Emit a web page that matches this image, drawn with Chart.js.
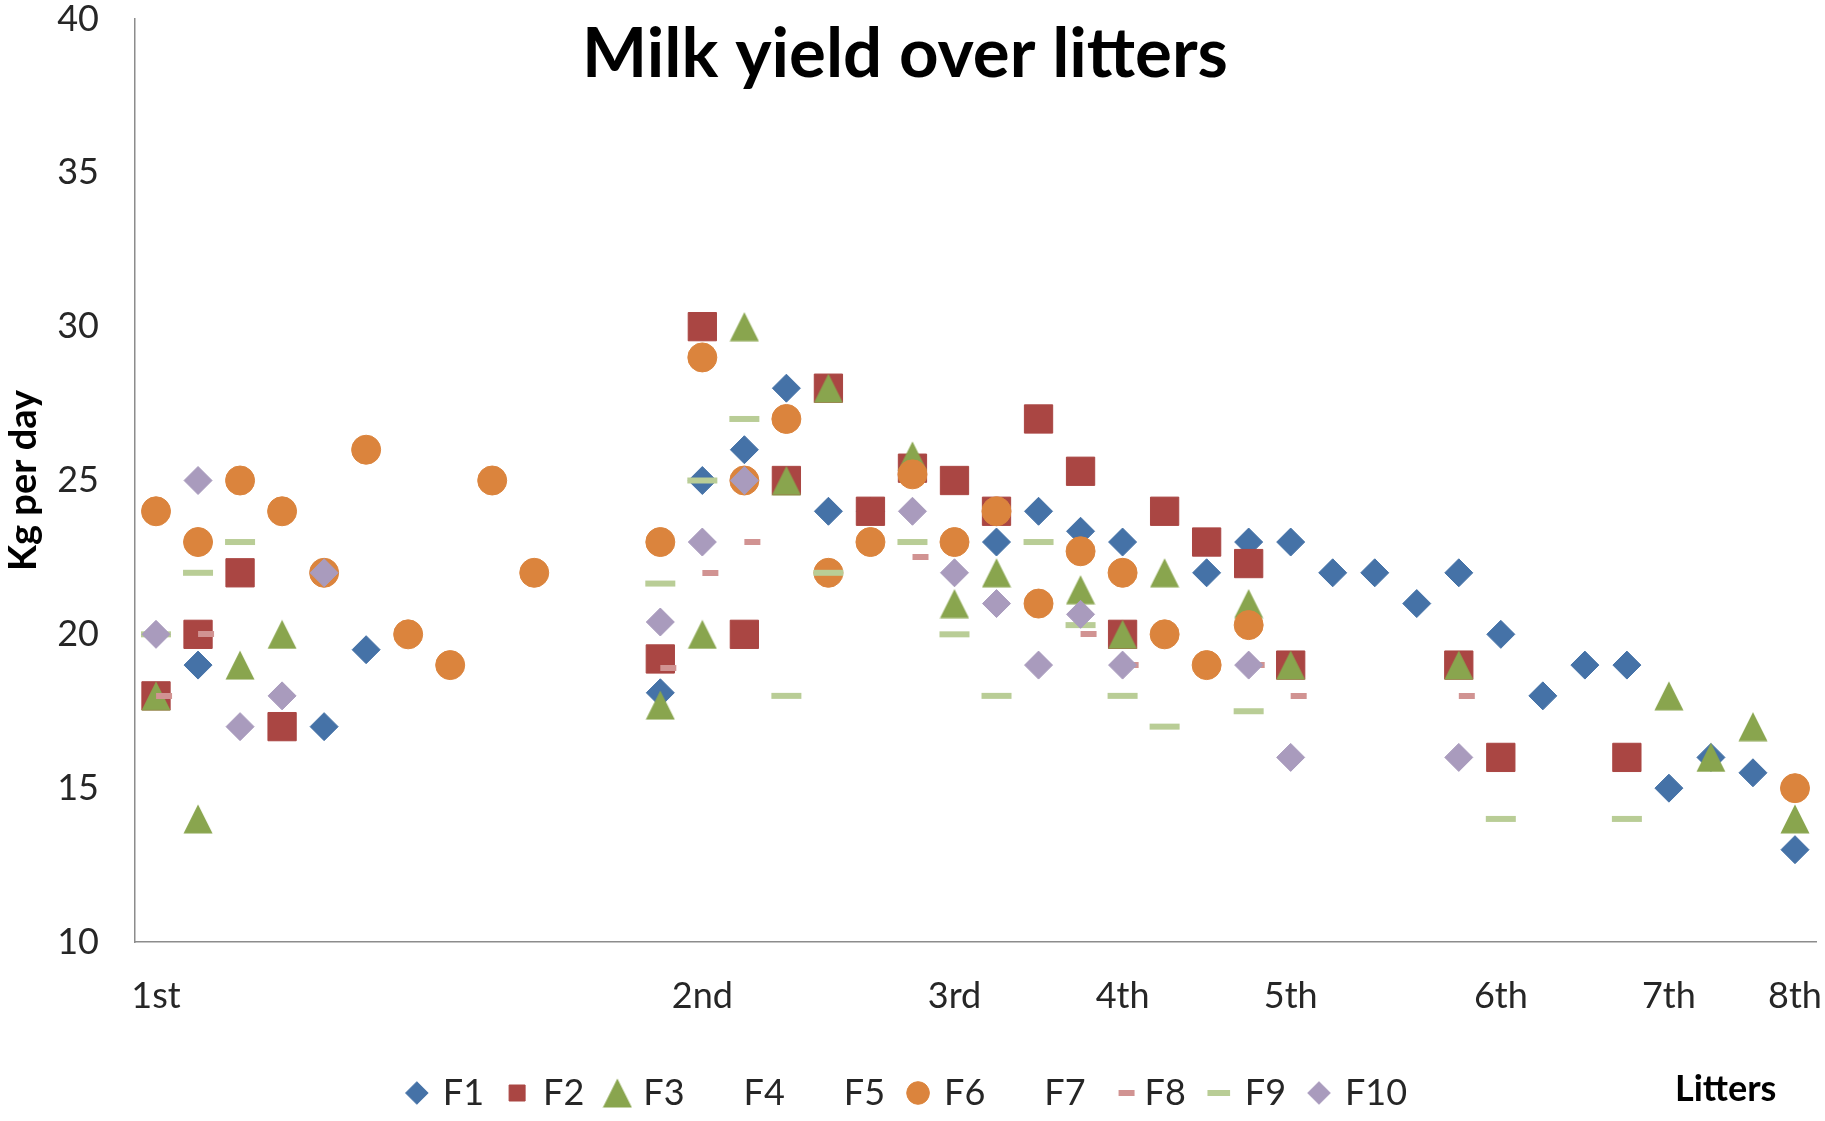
<!DOCTYPE html>
<html>
<head>
<meta charset="utf-8">
<title>Milk yield over litters</title>
<script src="https://cdn.jsdelivr.net/npm/chart.js@4.4.1/dist/chart.umd.min.js"></script>
<style>
  html, body { margin: 0; padding: 0; background: #fff; }
  #milkChart { display: block; }
</style>
</head>
<body>
<canvas id="milkChart" width="1825" height="1121"></canvas>
<script>
const n = null;

// x slots: one per recording, only the first of each litter is labelled
const litters = ['1st', '', '', '', '', '', '', '', '', '', '', '', '',
    '2nd', '', '', '', '', '',
    '3rd', '', '', '',
    '4th', '', '', '',
    '5th', '', '', '', '',
    '6th', '', '', '',
    '7th', '', '',
    '8th'];

const f1 = [n, 19, n, n, 17, 19.5, n, n, n, n, n, n, 18.1, 25, 26, 28, 24, 24, n, 23,
    23, 24, 23.35, 23, n, 22, 23, 23, 22, 22, 21, 22, 20, 18, 19, 19, 15, 16, 15.5, 13];
const f2 = [18, 20, 22, 17, n, n, n, n, n, n, n, n, 19.2, 30, 20, 25, 28, 24, 25.4, 25,
    24, 27, 25.3, 20, 24, 23, 22.3, 19, n, n, n, 19, 16, n, n, 16, n, n, n, n];
const f3 = [18, 14, 19, 20, n, n, n, n, n, n, n, n, 17.7, 20, 30, 25, 28, n, 25.8, 21,
    22, n, 21.45, 20, 22, n, 21, 19, n, n, n, 19, n, n, n, n, 18, 16, 17, 14];
const f4 = [];
const f5 = [];
const f6 = [24, 23, 25, 24, 22, 26, 20, 19, 25, 22, n, n, 23, 29, 25, 27, 22, 23, 25.2, 23,
    24, 21, 22.7, 22, 20, 19, 20.3, n, n, n, n, n, n, n, n, n, n, n, n, 15];
const f7 = [];
const f8 = [18, 20, n, n, n, n, n, n, n, n, n, n, 18.9, 22, 23, n, n, n, 22.5, n,
    n, n, 20, 19, n, n, 19, 18, n, n, n, 18, n, n, n, n, n, n, n, n];
const f9 = [20, 22, 23, n, n, n, n, n, n, n, n, n, 21.65, 25, 27, 18, 22, n, 23, 20,
    18, 23, 20.3, 18, 17, n, 17.5, n, n, n, n, n, 14, n, n, 14, n, n, n, n];
const f10 = [20, 25, 17, 18, 22, n, n, n, n, n, n, n, 20.4, 23, 25, n, n, n, 24, 22,
    21, 19, 20.65, 19, n, n, 19, 16, n, n, n, 16, n, n, n, n, n, n, n, n];

const seriesNames = ['F1', 'F2', 'F3', 'F4', 'F5', 'F6', 'F7', 'F8', 'F9', 'F10'];
const seriesData = [f1, f2, f3, f4, f5, f6, f7, f8, f9, f10];
const seriesColors = ['#4572A7', '#AA4643', '#89A54E', '#71588F', '#4198AF',
    '#DB843D', '#93A9CF', '#D19392', '#B9CD96', '#A99BBD'];

const chartTitle = 'Milk yield over litters';
const yTitle = 'Kg per day';
const xTitle = 'Litters';
const fontFamily = 'Lato, "Open Sans", sans-serif';

// Excel-like markers that Chart.js has no exact match for
function triangleMarker(color) {
    const c = document.createElement('canvas');
    c.width = 30; c.height = 30;
    const g = c.getContext('2d');
    g.fillStyle = color;
    g.beginPath();
    g.moveTo(15, 0.5);
    g.lineTo(29.5, 29.5);
    g.lineTo(0.5, 29.5);
    g.closePath();
    g.fill();
    return c;
}

function shortDashMarker(color) {
    const c = document.createElement('canvas');
    c.width = 34; c.height = 6;
    const g = c.getContext('2d');
    g.fillStyle = color;
    g.fillRect(17, 0, 16, 6);
    return c;
}

const markers = [
    { style: 'rectRot', radius: 14 },
    { style: 'rect', radius: 20 },
    { style: triangleMarker(seriesColors[2]), radius: 15 },
    { style: 'circle', radius: 0 },
    { style: 'circle', radius: 0 },
    { style: 'circle', radius: 14.5 },
    { style: 'circle', radius: 0 },
    { style: shortDashMarker(seriesColors[7]), radius: 15 },
    { style: 'line', radius: 15, width: 6 },
    { style: 'rectRot', radius: 14 }
];

const hidden = ['F4', 'F5', 'F7'];

const datasets = seriesNames.map((name, i) => {
    const invisible = hidden.includes(name);
    const color = invisible ? 'rgba(0,0,0,0)' : seriesColors[i];
    return {
        label: name,
        data: seriesData[i],
        showLine: false,
        order: seriesNames.length - i,
        pointStyle: markers[i].style,
        pointRadius: markers[i].radius,
        pointHoverRadius: markers[i].radius,
        pointBackgroundColor: color,
        pointBorderColor: color,
        pointBorderWidth: markers[i].width || 1,
        backgroundColor: color,
        borderColor: color
    };
});

const textPlugin = {
    id: 'texts',
    afterDraw(chart) {
        const ctx = chart.ctx;
        ctx.save();
        ctx.fillStyle = '#000';
        ctx.textBaseline = 'alphabetic';
        ctx.textAlign = 'center';
        ctx.font = 'bold 69px ' + fontFamily;
        ctx.fillText(chartTitle, 905, 77);
        ctx.textAlign = 'left';
        ctx.font = 'bold 36px ' + fontFamily;
        ctx.fillText(xTitle, 1675, 1101);
        ctx.restore();
    }
};

new Chart(document.getElementById('milkChart'), {
    type: 'line',
    data: {
        labels: litters,
        datasets: datasets
    },
    options: {
        responsive: false,
        animation: false,
        events: [],
        layout: {
            autoPadding: false,
            padding: { left: 0, right: 9, top: 19, bottom: 0 }
        },
        scales: {
            x: {
                offset: true,
                grid: { display: false, drawTicks: false },
                border: { display: true, color: '#8c8c8c', width: 1.5 },
                ticks: {
                    autoSkip: false,
                    maxRotation: 0,
                    padding: 33,
                    color: '#262626',
                    font: { family: fontFamily, size: 36 }
                },
                afterFit: scale => {
                    scale.height = 108;
                    scale.paddingLeft = 0;
                    scale.paddingRight = 0;
                }
            },
            y: {
                min: 10,
                max: 40,
                grid: { display: false, drawTicks: false },
                border: { display: true, color: '#8c8c8c', width: 1.5 },
                ticks: {
                    stepSize: 5,
                    padding: 36,
                    color: '#262626',
                    font: { family: fontFamily, size: 36, lineHeight: 1 }
                },
                title: {
                    display: true,
                    text: yTitle,
                    color: '#000',
                    padding: { top: 1, bottom: 0 },
                    font: { family: fontFamily, size: 38, weight: 'bold' }
                },
                afterFit: scale => {
                    scale.width = 135;
                    scale.paddingTop = 0;
                }
            }
        },
        plugins: {
            legend: {
                position: 'bottom',
                labels: {
                    usePointStyle: true,
                    boxHeight: 16,
                    boxWidth: 16,
                    padding: 25,
                    color: '#262626',
                    font: { family: fontFamily, size: 36 },
                    sort: (a, b) => a.datasetIndex - b.datasetIndex
                }
            },
            tooltip: { enabled: false }
        }
    },
    plugins: [textPlugin]
});
</script>
</body>
</html>
